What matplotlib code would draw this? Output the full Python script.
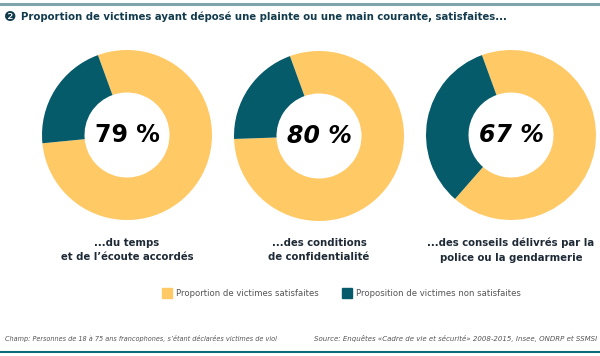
import matplotlib.pyplot as plt
from matplotlib.patches import Rectangle

# data
pcts = [79, 80, 67]
labels = ['...du temps\net de l\u2019écoute accordés',
          '...des conditions\nde confidentialité',
          '...des conseils délivrés par la\npolice ou la gendarmerie']
italic = [False, True, True]
legend_labels = ['Proportion de victimes satisfaites',
                 'Proposition de victimes non satisfaites']

YELLOW = '#FFC966'
TEAL = '#055B6A'
W, H = 600, 356

fig = plt.figure(figsize=(6, 3.56), dpi=100)

def fx(x): return x / W
def fy(y): return 1 - y / H

# top rule + title
fig.add_artist(plt.Line2D([0, 1], [fy(4), fy(4)], color='#7FA3AA', lw=2.2))
fig.text(fx(4), fy(17), '\u2777', fontsize=10, color='#123C4E', va='center', ha='left')
fig.text(fx(21), fy(17), 'Proportion de victimes ayant déposé une plainte ou une main courante, satisfaites...',
         fontsize=7.25, fontweight='bold', color='#123C4E', va='center', ha='left')

centers = [(127, 135), (319, 136), (511, 135)]
r = 85
for i in range(3):
    cx, cy = centers[i]
    ax = fig.add_axes([fx(cx - r), fy(cy + r), fx(2 * r), 2 * r / H])
    ax.pie([pcts[i], 100 - pcts[i]], colors=[YELLOW, TEAL], startangle=110,
           counterclock=False, radius=1, wedgeprops={'width': 0.5, 'linewidth': 0})
    ax.set_xlim(-1, 1)
    ax.set_ylim(-1, 1)
    ax.set_aspect('equal')
    ax.axis('off')
    ax.text(0, 0, str(pcts[i]) + ' %', ha='center', va='center', fontsize=17,
            fontweight='bold', style='italic' if italic[i] else 'normal', color='black')
    fig.text(fx(cx), fy(250), labels[i], ha='center', va='center', fontsize=7.3,
             fontweight='bold', color='#1E2A36', linespacing=1.6)

# legend
fig.add_artist(Rectangle((fx(162), fy(298)), fx(10), 10 / H, color=YELLOW))
fig.text(fx(176), fy(293), legend_labels[0], fontsize=6.1, color='#555555', va='center')
fig.add_artist(Rectangle((fx(342), fy(298)), fx(10), 10 / H, color=TEAL))
fig.text(fx(356), fy(293), legend_labels[1], fontsize=6.1, color='#555555', va='center')

# footer
fig.text(fx(5), fy(339), 'Champ: Personnes de 18 à 75 ans francophones, s\u2019étant déclarées victimes de viol',
         fontsize=4.7, style='italic', color='#555555', va='center')
fig.text(fx(597), fy(339), 'Source: Enquêtes \u00abCadre de vie et sécurité\u00bb 2008-2015, Insee, ONDRP et SSMSI',
         fontsize=5, style='italic', color='#555555', va='center', ha='right')
fig.add_artist(plt.Line2D([0, 1], [fy(352), fy(352)], color='#0B6C78', lw=1.5))

fig.savefig('out.png', dpi=100)
